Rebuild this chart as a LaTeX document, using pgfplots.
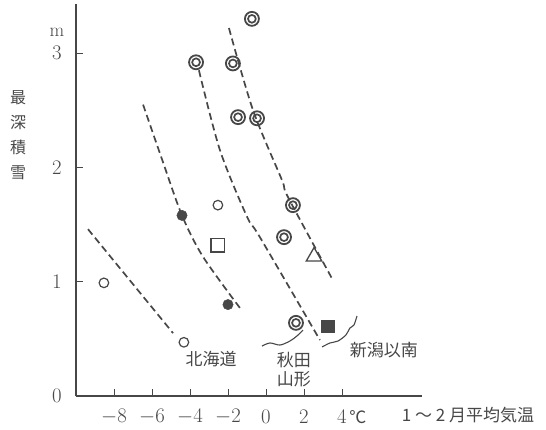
\documentclass[border=0pt]{standalone}
\usepackage{fontspec}
\usepackage{pgfplots}
\pgfplotsset{compat=1.18}
\newfontfamily\cjk{Noto Sans CJK JP}
\definecolor{ink}{gray}{0.28}
\begin{document}
\begin{tikzpicture}
\begin{axis}[
  x=19pt, y=114.3pt,
  xmin=-10, xmax=8.2, ymin=0, ymax=3.43,
  axis lines=left,
  axis line style={-, line width=1.4pt, ink},
  xtick={-8,-6,-4,-2,0,2,4},
  xticklabels={$-8$,$-6$,$-4$,$-2$,$0$,$2$,$4$},
  ytick={0,1,2,3},
  tick align=inside,
  major tick length=7pt,
  tick style={ink, line width=0.8pt},
  tick label style={font=\fontsize{20}{22}\selectfont, text=ink},
  xticklabel style={anchor=center, yshift=-21pt},
  yticklabel style={anchor=center, xshift=-19pt},
  clip=false,
]
% dashed guide lines
\addplot[ink, line width=1.7pt, dash pattern=on 7pt off 4pt] coordinates {(-9.37,1.46) (-4.89,0.55)};
\addplot[ink, line width=1.7pt, dash pattern=on 7pt off 4pt, smooth] coordinates {(-6.47,2.55) (-5.47,2.07) (-4.42,1.58) (-3.32,1.22) (-1.37,0.77)};
\addplot[ink, line width=1.7pt, dash pattern=on 7pt off 4pt, smooth] coordinates {(-3.53,2.85) (-2.42,2.15) (-1.0,1.57) (-0.32,1.39) (2.84,0.49)};
\addplot[ink, line width=1.7pt, dash pattern=on 7pt off 4pt, smooth] coordinates {(-1.95,3.22) (-0.68,2.50) (0.84,1.89) (1.16,1.74) (3.47,1.03)};
% braces
\addplot[ink, line width=1.1pt, smooth] coordinates {(-0.21,0.437) (0.21,0.464) (0.74,0.446) (1.26,0.481) (1.63,0.525) (1.95,0.577)};
\addplot[ink, line width=1.1pt, smooth] coordinates {(2.95,0.429) (3.37,0.464) (3.79,0.481) (4.21,0.534) (4.42,0.595) (4.63,0.621) (4.79,0.70)};
% double circles
\addplot[only marks, mark=o, mark size=7pt, mark options={ink, line width=1.8pt, fill=white}] coordinates {
 (-0.74,3.30) (-3.68,2.92) (-1.74,2.91) (-1.47,2.44) (-0.47,2.43) (1.42,1.67) (0.95,1.39) (1.58,0.64)};
\addplot[only marks, mark=o, mark size=3.9pt, mark options={ink, line width=1.7pt}] coordinates {
 (-0.74,3.30) (-3.68,2.92) (-1.74,2.91) (-1.47,2.44) (-0.47,2.43) (1.42,1.67) (0.95,1.39) (1.58,0.64)};
% filled circles
\addplot[only marks, mark=*, mark size=5.2pt, mark options={ink, fill=ink}] coordinates {(-4.42,1.58) (-2.00,0.80)};
% open circles
\addplot[only marks, mark=o, mark size=4.8pt, mark options={ink, line width=1.2pt, fill=white}] coordinates {(-2.53,1.67) (-8.53,0.99) (-4.32,0.47)};
% open square
\addplot[only marks, mark=square, mark size=6.8pt, mark options={ink, line width=1.3pt}] coordinates {(-2.53,1.32)};
% triangle
\addplot[only marks, mark=triangle, mark size=9pt, mark options={ink, line width=1.3pt}] coordinates {(2.53,1.22)};
% filled square
\addplot[only marks, mark=square*, mark size=6.3pt, mark options={ink, fill=ink}] coordinates {(3.26,0.61)};
% texts
\node[text=ink, font=\cjk\fontsize{17}{20}\selectfont] at (axis cs:-2.89,0.32) {北海道};
\node[text=ink, font=\cjk\fontsize{17}{20}\selectfont, align=center] at (axis cs:1.47,0.23) {秋田\\[-1pt]山形};
\node[text=ink, font=\cjk\fontsize{17}{20}\selectfont] at (axis cs:6.2,0.40) {新潟以南};
\node[text=ink, font=\cjk\fontsize{16}{25}\selectfont, align=center] at (axis cs:-13.05,2.28) {最\\深\\積\\雪};
\node[text=ink, font=\fontsize{19}{20}\selectfont] at (axis cs:-11.0,3.18) {m};
\node[text=ink, font=\cjk\fontsize{17}{20}\selectfont, anchor=west, inner sep=0pt] at (axis cs:4.38,-0.184) {℃};
\node[text=ink, font=\cjk\fontsize{17}{20}\selectfont] at (axis cs:10.63,-0.166) {1 ～ 2 月平均気温};
\coordinate (bl) at (axis cs:-14.0,-0.289);
\coordinate (tr) at (axis cs:14.74,3.465);
\end{axis}
\pgfresetboundingbox
\path (bl) rectangle (tr);
\end{tikzpicture}
\end{document}
